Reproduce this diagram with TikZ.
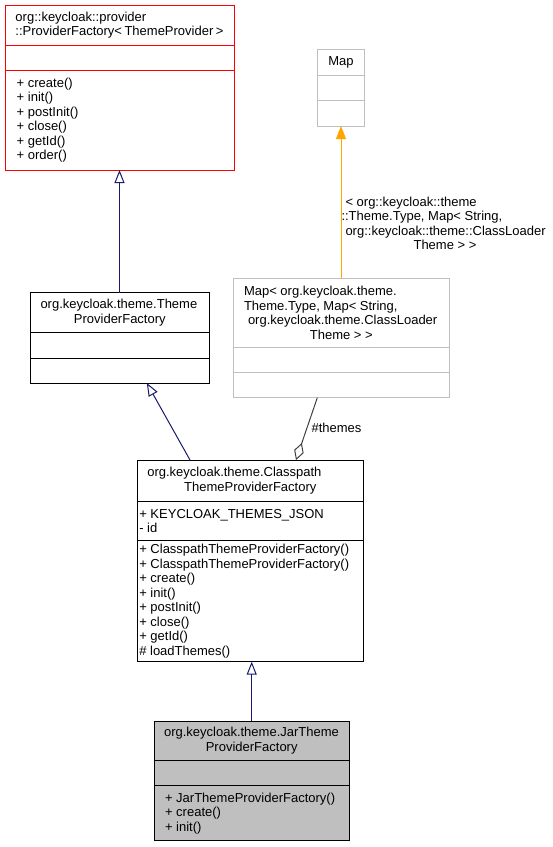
\documentclass[tikz,border=0pt]{standalone}
\usepackage{fontspec}
\setmainfont{Liberation Sans}
\usepackage{xcolor}
\usetikzlibrary{arrows.meta, positioning}

\definecolor{edgeblue}{HTML}{191970}
\definecolor{edgegray}{HTML}{404040}
\definecolor{boxgray}{HTML}{BFBFBF}
\definecolor{edgeorange}{HTML}{FFA500}
\newcommand{\umlfont}{\fontsize{13}{14.5}\selectfont}
\newcommand{\lastline}[1]{\\\hbox to\hsize{\hfil#1\hfil}}

\begin{document}
\begin{tikzpicture}[x=1pt, y=-1pt,
    part/.style={rectangle, draw, line width=1pt, outer sep=0pt, inner ysep=0pt, align=flush left, font=\umlfont},
    title/.style={part, anchor=north},
    inherit/.style={-{Triangle[open, fill=white, length=13pt, width=10pt]}, edgeblue, line width=1pt},
    tmpl/.style={-{Triangle[length=13pt, width=10pt]}, edgeorange, line width=1pt},
    usage/.style={{Diamond[open, fill=white, length=18pt, width=10pt]}-, edgegray, line width=1pt}
]
\useasboundingbox (0,0) rectangle (553,847);

% ProviderFactory template
\node[title, draw=red, text width=208pt, inner xsep=10.5pt, minimum height=40.7pt] (pf) at (119.5,5)
    {org::keycloak::provider\lastline{::ProviderFactory< ThemeProvider >}};
\node[part, draw=red, text width=208pt, inner xsep=10.5pt, minimum height=25pt, below=0pt of pf] (pfattr) {};
\node[part, draw=red, text width=205.6pt, inner xsep=11.7pt, minimum height=99.3pt, below=0pt of pfattr] (pfops)
    {+ create()\\+ init()\\+ postInit()\\+ close()\\+ getId()\\+ order()};

% Map
\node[title, draw=boxgray, text width=26.5pt, inner xsep=10pt, minimum height=25.7pt, align=center] (map) at (341,49.3) {Map};
\node[part, draw=boxgray, text width=26.5pt, inner xsep=10pt, minimum height=25.7pt, below=0pt of map] (mapattr) {};
\node[part, draw=boxgray, text width=26.5pt, inner xsep=10pt, minimum height=25.3pt, below=0pt of mapattr] (mapops) {};

% ThemeProviderFactory
\node[title, text width=158.6pt, inner xsep=10.2pt, minimum height=39.6pt] (tpf) at (119.8,292.7)
    {org.keycloak.theme.Theme\lastline{ProviderFactory}};
\node[part, text width=158.6pt, inner xsep=10.2pt, minimum height=25.7pt, below=0pt of tpf] (tpfattr) {};
\node[part, text width=158.6pt, inner xsep=10.2pt, minimum height=25pt, below=0pt of tpfattr] (tpfops) {};

% Map instance
\node[title, draw=boxgray, text width=194.6pt, inner xsep=10.7pt, minimum height=69pt] (mapt) at (341.3,278.3)
    {Map< org.keycloak.theme.\\Theme.Type, Map< String,\\\hspace*{4pt}org.keycloak.theme.ClassLoader\lastline{Theme > >}};
\node[part, draw=boxgray, text width=194.6pt, inner xsep=10.7pt, minimum height=25.4pt, below=0pt of mapt] (maptattr) {};
\node[part, draw=boxgray, text width=194.6pt, inner xsep=10.7pt, minimum height=25pt, below=0pt of maptattr] (maptops) {};

% ClasspathThemeProviderFactory
\node[title, text width=206pt, inner xsep=10pt, minimum height=41.7pt] (cp) at (250.3,460)
    {org.keycloak.theme.Classpath\lastline{ThemeProviderFactory}};
\node[part, text width=222pt, inner xsep=2pt, minimum height=39pt, below=0pt of cp] (cpattr)
    {+ KEYCLOAK\_THEMES\_JSON\\- id};
\node[part, text width=222pt, inner xsep=2pt, minimum height=121pt, below=0pt of cpattr] (cpops)
    {+ ClasspathThemeProviderFactory()\\+ ClasspathThemeProviderFactory()\\+ create()\\+ init()\\+ postInit()\\+ close()\\+ getId()\\\# loadThemes()};

% JarThemeProviderFactory
\node[title, fill=boxgray, text width=175.3pt, inner xsep=10pt, minimum height=39.7pt] (jar) at (251.7,721)
    {org.keycloak.theme.JarTheme\lastline{ProviderFactory}};
\node[part, fill=boxgray, text width=173.3pt, inner xsep=11pt, minimum height=25pt, below=0pt of jar] (jarattr) {};
\node[part, fill=boxgray, text width=173.3pt, inner xsep=11pt, minimum height=55pt, below=0pt of jarattr] (jarops)
    {+ JarThemeProviderFactory()\\+ create()\\+ init()};

% Arrows
\draw[inherit] (tpf.north -| pfops.south) -- (pfops.south);
\draw[inherit] ([xshift=-60.3pt]cp.north) -- ([xshift=27pt]tpfops.south);
\draw[inherit] (jar.north) -- (jar.north |- cpops.south);
\draw[tmpl] (mapt.north -| mapops.south) -- node[pos=0.36, anchor=west, inner sep=0pt, text=black, text width=207pt, align=flush left, font=\umlfont]
    {\hspace*{4pt}< org::keycloak::theme\\::Theme.Type, Map< String,\\\hspace*{4pt}org::keycloak::theme::ClassLoader\lastline{Theme > >}} (mapops.south);
\draw[usage] ([xshift=45.7pt]cp.north) -- node[pos=0.52, right, inner sep=4pt, text=black, font=\umlfont] {\#themes} ([xshift=-24pt]maptops.south);

\end{tikzpicture}
\end{document}
